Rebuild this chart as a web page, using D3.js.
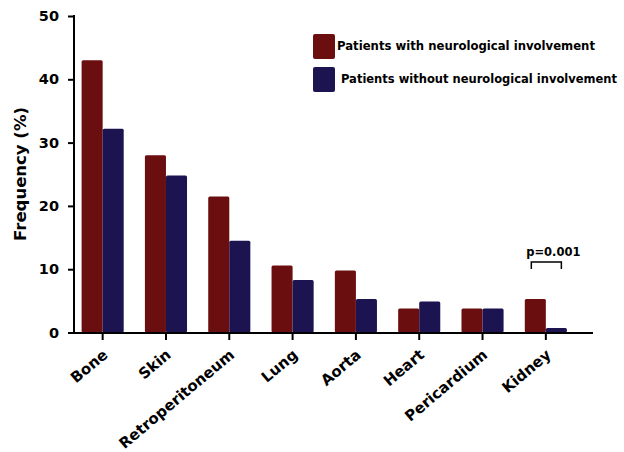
<!DOCTYPE html>
<html><head><meta charset="utf-8">
<script src="https://cdn.jsdelivr.net/npm/d3@7"></script>
<style>body{margin:0;background:#fff}svg{display:block}text{font-family:"DejaVu Sans",Verdana,sans-serif;font-weight:bold;fill:#000}</style>
</head><body>
<svg id="c" width="624" height="452"></svg>
<script>
const categories = ["Bone","Skin","Retroperitoneum","Lung","Aorta","Heart","Pericardium","Kidney"];
const withNeuro = [43.0,28.0,21.5,10.6,9.8,3.8,3.8,5.3];
const withoutNeuro = [32.2,24.8,14.5,8.3,5.3,4.9,3.8,0.7];
const seriesNames = ["Patients with neurological involvement","Patients without neurological involvement"];
const colors = ["#6b0e10","#1b1450"];
const yTicks = [0,10,20,30,40,50];

const svg = d3.select("#c");
const y = d3.scaleLinear().domain([0,50]).range([332.5,16]);
const x = d3.scaleBand().domain(categories).range([71,577.5]).paddingInner(0.335).paddingOuter(0.1675);
const xs = d3.scaleBand().domain([0,1]).range([0,x.bandwidth()]);

const g = svg.append("g");
categories.forEach((c,i)=>{
  [withNeuro[i],withoutNeuro[i]].forEach((v,j)=>{
    g.append("rect").attr("x",x(c)+xs(j)).attr("y",y(v)).attr("width",xs.bandwidth()).attr("height",y(0)-y(v))
      .attr("rx",1.5).attr("fill",colors[j]);
  });
});

// axes
const yAxis = svg.append("g").attr("transform","translate(74,0)")
  .call(d3.axisLeft(y).tickValues(yTicks).tickSize(6).tickPadding(9));
yAxis.select(".domain").remove();
yAxis.selectAll(".tick line").attr("stroke","#000").attr("stroke-width",2);
yAxis.selectAll(".tick text").attr("font-size",14.5).attr("font-family","DejaVu Sans").attr("font-weight","bold");
svg.append("line").attr("x1",74).attr("x2",74).attr("y1",15).attr("y2",334).attr("stroke","#000").attr("stroke-width",2);
svg.append("line").attr("x1",70).attr("x2",593).attr("y1",333).attr("y2",333).attr("stroke","#000").attr("stroke-width",2);

const xAxis = svg.append("g").attr("transform","translate(0,333)")
  .call(d3.axisBottom(x).tickSize(7).tickPadding(4));
xAxis.select(".domain").remove();
xAxis.selectAll(".tick line").attr("stroke","#000").attr("stroke-width",2);
xAxis.selectAll(".tick text").attr("font-size",15).attr("font-family","DejaVu Sans").attr("font-weight","bold")
  .attr("text-anchor","end").attr("dy",0).attr("transform","translate(-1,15) rotate(-40)");

svg.append("text").attr("transform","translate(26,174) rotate(-90)").attr("text-anchor","middle")
  .attr("font-size",16.5).text("Frequency (%)");

// legend
const legY=[34,67], legTX=[337,341];
seriesNames.forEach((n,i)=>{
  svg.append("rect").attr("x",313).attr("y",legY[i]).attr("width",22).attr("height",25).attr("rx",2).attr("fill",colors[i]);
  svg.append("text").attr("x",legTX[i]).attr("y",legY[i]+15.5).attr("font-size",12.5).attr("textLength",i?276:258).attr("lengthAdjust","spacingAndGlyphs").text(n);
});

// p-value bracket
const kx = x("Kidney");
const bx1 = kx+xs(0)+xs.bandwidth()/2-4, bx2 = kx+xs(1)+xs.bandwidth()/2+5;
svg.append("path").attr("d",`M${bx1},269 V262 H${bx2} V269`).attr("fill","none").attr("stroke","#000").attr("stroke-width",1.5);
svg.append("text").attr("x",(bx1+bx2)/2+7).attr("y",256).attr("text-anchor","middle").attr("font-size",11.5).text("p=0.001");
</script>
</body></html>
